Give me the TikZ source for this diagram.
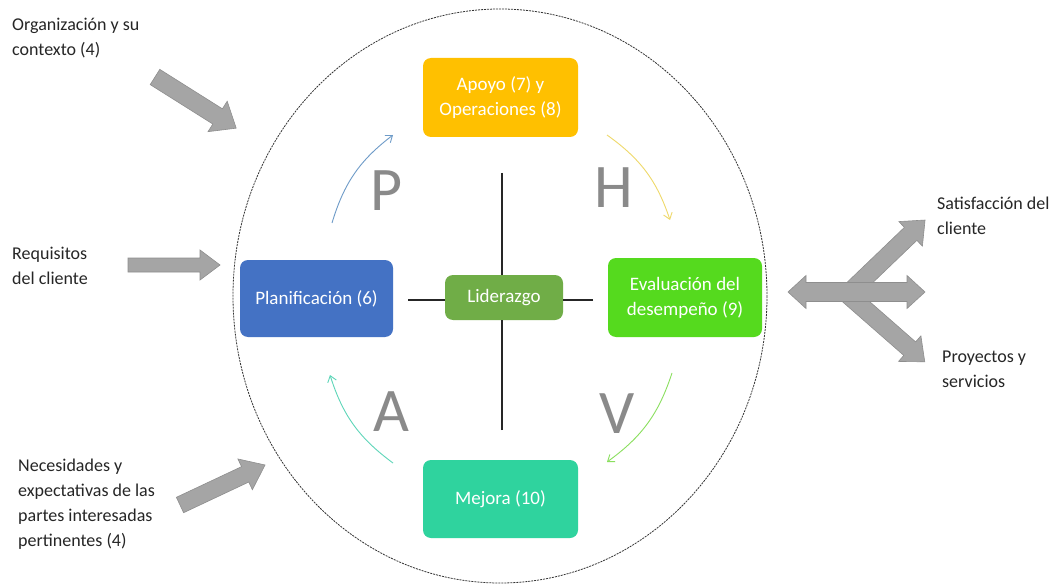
\documentclass[tikz,border=0pt]{standalone}
\usepackage{fontspec}
\setmainfont{Carlito}
\usetikzlibrary{arrows.meta}

\definecolor{apoyo}{HTML}{FFC000}
\definecolor{planif}{HTML}{4472C4}
\definecolor{lider}{HTML}{70AD47}
\definecolor{evalua}{HTML}{55DA1E}
\definecolor{mejora}{HTML}{2FD39E}
\definecolor{arrowgray}{HTML}{A5A5A5}
\definecolor{arrowedge}{HTML}{8E8E8E}
\definecolor{lettergray}{HTML}{8A8A8A}
\definecolor{cycP}{HTML}{6E9BC8}
\definecolor{cycH}{HTML}{EFD96A}
\definecolor{cycV}{HTML}{8ADF5E}
\definecolor{cycA}{HTML}{5ED6B9}

\tikzset{
  stage/.style={rounded corners=8pt, inner sep=0pt, text=white, align=center,
    font=\fontsize{19}{25}\selectfont},
  pdcaletter/.style={text=lettergray, inner sep=0pt, font=\fontsize{62}{62}\selectfont},
  sidetext/.style={anchor=north west, inner sep=0pt, align=left,
    font=\fontsize{18}{25}\selectfont, text=black!85},
  cyc/.style={line width=0.9pt, -{Straight Barb[length=6pt,width=9pt]}},
  axisline/.style={line width=1.1pt, black!85},
  blockarrow/.style={fill=arrowgray, draw=arrowedge, line width=0.6pt, line join=miter},
  ring/.style={draw=black!80, line width=0.8pt, dash pattern=on 2pt off 1pt},
}

% block arrow: tail centre, angle, length, shaft half width, head half width, head length
\newcommand\blockarr[6]{%
  \begin{scope}[shift={#1}, rotate=#2]
    \path[blockarrow] (0,-#4) -- ({#3-#6},-#4) -- ({#3-#6},-#5) -- (#3,0)
      -- ({#3-#6},#5) -- ({#3-#6},#4) -- (0,#4) -- cycle;
  \end{scope}}

\begin{document}
\begin{tikzpicture}[x=1pt, y=-1pt]
\useasboundingbox[fill=white] (0,0) rectangle (1052,588);

% dashed boundary of the organisation
\draw[ring] (500,296) ellipse [x radius=267, y radius=287];

% PDCA stages
\node[stage, fill=apoyo,  minimum width=155, minimum height=79] (apo) at (500.5,97.5) {Apoyo (7) y\\Operaciones (8)};
\node[stage, fill=planif, minimum width=153, minimum height=77] (pla) at (316.5,298.5) {Planificación (6)};
\node[stage, fill=lider,  minimum width=118, minimum height=45] (lid) at (504,297.5) {Liderazgo};
\node[stage, fill=evalua, minimum width=154, minimum height=79] (eva) at (685,297.5) {Evaluación del\\desempeño (9)};
\node[stage, fill=mejora, minimum width=155, minimum height=78] (mej) at (500.5,499) {Mejora (10)};

% cross through the leadership box
\coordinate (vtop) at (502,173);
\coordinate (vbot) at (502,430);
\coordinate (hleft) at (408,300);
\coordinate (hright) at (593,300);
\draw[axisline] (vtop) -- (vtop |- lid.north);
\draw[axisline] (vbot) -- (vbot |- lid.south);
\draw[axisline] (hleft) -- (hleft -| lid.west);
\draw[axisline] (hright) -- (hright -| lid.east);

% PDCA letters
\node[pdcaletter] (P) at (387,191) {P};
\node[pdcaletter] (H) at (614,188) {H};
\node[pdcaletter] (A) at (391,412) {A};
\node[pdcaletter] (V) at (617,414) {V};

% cycle arrows
\coordinate (p1) at (332,223); \coordinate (p2) at (393,135);
\coordinate (h1) at (607,135); \coordinate (h2) at (670,220);
\coordinate (v1) at (672,373); \coordinate (v2) at (607,462);
\coordinate (a1) at (393,463); \coordinate (a2) at (330,375);
\draw[cyc, cycP] (p1) to[bend left=18] (p2);
\draw[cyc, cycH] (h1) to[bend left=18] (h2);
\draw[cyc, cycV] (v1) to[bend left=18] (v2);
\draw[cyc, cycA] (a1) to[bend left=18] (a2);

% inputs
\blockarr{(155,77)}{-32.2}{96}{9}{18}{22}
\blockarr{(128,265)}{0}{92}{7}{15}{20}
\blockarr{(180,505)}{25.2}{94}{8.5}{17}{22}

% outputs
\blockarr{(850,292)}{43.8}{104}{9}{17}{20}
\blockarr{(845,292)}{-41.2}{106}{9}{17}{20}
\path[blockarrow] (788,292) -- (806,275.5) -- (806,282.5) -- (907,282.5) -- (907,275.5)
  -- (925,292) -- (907,308.5) -- (907,301.5) -- (806,301.5) -- (806,308.5) -- cycle;

% side texts
\node[sidetext] (org) at (12,18) {Organización y su\\contexto (4)};
\node[sidetext] (req) at (12,247) {Requisitos\\del cliente};
\node[sidetext] (nec) at (18,459) {Necesidades y\\expectativas de las\\partes interesadas\\pertinentes (4)};
\node[sidetext] (sat) at (937,197) {Satisfacción del\\cliente};
\node[sidetext] (pro) at (942,351) {Proyectos y\\servicios};
\end{tikzpicture}
\end{document}
